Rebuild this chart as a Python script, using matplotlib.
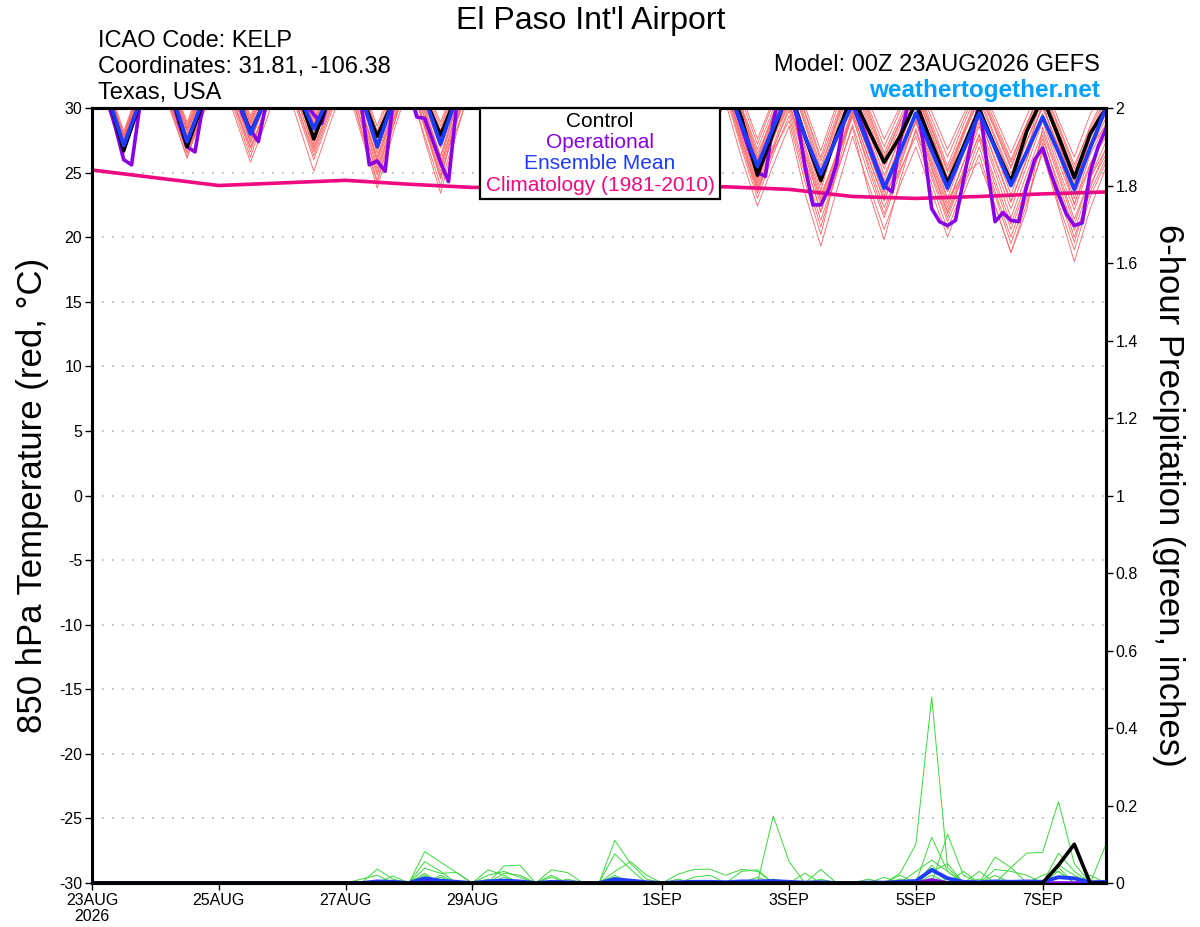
import numpy as np
import matplotlib
matplotlib.use("Agg")
import matplotlib.pyplot as plt
from matplotlib.patches import Rectangle

plt.rcParams['font.family'] = ['Liberation Sans', 'DejaVu Sans']

# forecast hours after 00Z 23AUG2026
hours6 = np.arange(0, 385, 6)
hours3 = np.arange(0, 385, 3)

date_ticks = [0, 48, 96, 144, 216, 264, 312, 360]
date_labels = ['23AUG\n2026', '25AUG', '27AUG', '29AUG', '1SEP', '3SEP', '5SEP', '7SEP']
temp_ticks = list(range(-30, 31, 5))
prec_ticks = [0, 0.2, 0.4, 0.6, 0.8, 1.0, 1.2, 1.4, 1.6, 1.8, 2.0]
prec_labels = ['0', '0.2', '0.4', '0.6', '0.8', '1', '1.2', '1.4', '1.6', '1.8', '2']

# 850 hPa temperature (C), 6-hourly: each row = one day 00/06/12/18Z, last value 00Z 8SEP
control_t = [33.5, 31.0, 26.7, 30.3,  34.0, 31.2, 27.0, 30.4,  34.0, 31.5, 28.1, 30.8,  34.5, 31.2, 27.6, 30.8,
             34.0, 31.0, 27.8, 30.5,  33.5, 30.8, 27.9, 30.9,  33.0, 31.0, 28.0, 31.0,  33.5, 31.5, 28.5, 31.5,
             34.0, 32.0, 28.5, 32.0,  34.0, 32.0, 28.8, 31.5,  32.5, 29.2, 24.8, 28.1,  31.5, 27.8, 24.4, 27.9,
             31.0, 28.3, 25.8, 27.8,  30.4, 27.3, 24.2, 27.0,  29.9, 27.0, 24.3, 28.2,  30.8, 27.8, 24.6, 28.0,
             30.0]
mean_t = [33.5, 31.0, 27.1, 30.4,  34.0, 31.2, 27.4, 30.6,  34.0, 31.4, 28.0, 30.8,  34.0, 31.2, 28.4, 30.9,
          34.0, 31.0, 27.0, 30.5,  33.5, 30.8, 27.2, 30.8,  33.0, 31.0, 27.8, 31.0,  33.2, 31.2, 28.0, 31.2,
          33.5, 31.4, 28.0, 31.5,  33.5, 31.4, 28.2, 31.5,  32.0, 28.7, 25.5, 28.5,  31.2, 27.8, 24.9, 27.7,
          30.3, 27.1, 23.8, 26.6,  29.6, 26.7, 23.8, 26.7,  29.6, 26.9, 24.0, 26.6,  29.3, 26.6, 23.7, 26.9,
          30.0]
# operational run, 3-hourly: each row = one day 00..21Z
oper_t = [33.0, 32.0, 30.5, 28.4, 26.0, 25.6, 30.0, 32.5,
          33.5, 32.5, 31.0, 28.8, 27.0, 26.6, 30.2, 32.0,
          34.0, 33.0, 31.5, 29.5, 28.3, 27.4, 30.4, 32.5,
          34.0, 33.0, 31.5, 30.3, 29.5, 28.8, 31.0, 33.0,
          34.0, 32.5, 30.3, 25.6, 25.9, 25.1, 30.5, 32.0,
          31.5, 29.3, 29.2, 27.5, 25.8, 24.3, 30.0, 32.0,
          33.0, 32.0, 31.0, 29.5, 28.5, 28.2, 30.5, 32.0,
          33.5, 32.5, 31.2, 29.8, 28.8, 28.5, 30.8, 32.5,
          34.0, 33.0, 31.5, 30.0, 29.0, 28.6, 31.0, 32.5,
          34.0, 33.0, 31.5, 29.8, 28.7, 28.2, 30.6, 32.0,
          32.0, 30.5, 28.5, 26.7, 25.0, 24.7, 29.0, 31.5,
          31.5, 29.2, 25.5, 22.5, 22.5, 23.7, 25.7, 29.5,
          31.0, 29.0, 27.3, 25.6, 24.0, 23.5, 27.5, 30.3,
          31.0, 27.0, 22.2, 21.2, 20.9, 21.3, 24.4, 27.4,
          30.5, 25.5, 21.2, 21.9, 21.3, 21.2, 24.0, 26.0,
          26.9, 25.0, 23.3, 21.8, 20.9, 21.1, 25.0, 27.0,
          28.4]

members_t = [
    [33.8, 30.9, 27.2, 30.6, 34.2, 31.0, 27.8, 30.8, 34.5, 31.2, 28.4, 31.0, 34.8, 31.5, 28.0, 31.2,
     34.5, 30.6, 26.8, 30.4, 33.9, 30.2, 26.9, 30.9, 33.5, 30.8, 27.5, 31.0, 33.8, 31.2, 28.2, 31.4,
     34.1, 31.5, 28.6, 31.7, 34.0, 31.3, 28.0, 31.0, 32.6, 28.9, 25.2, 28.3, 31.4, 27.8, 24.2, 27.6,
     31.0, 27.5, 24.0, 27.2, 30.4, 26.9, 23.5, 26.6, 29.8, 26.8, 23.9, 26.9, 30.2, 26.9, 23.6, 27.0, 29.9],
    [33.2, 30.4, 26.5, 30.1, 33.6, 30.2, 27.0, 30.5, 34.0, 30.8, 27.6, 30.6, 34.3, 30.9, 27.2, 30.8,
     33.8, 29.9, 25.9, 29.8, 33.1, 29.6, 25.8, 30.2, 33.0, 30.1, 26.8, 30.6, 33.4, 30.7, 27.4, 31.0,
     33.9, 31.0, 27.9, 31.2, 33.6, 30.9, 27.3, 30.4, 31.8, 27.6, 24.0, 27.1, 30.5, 26.3, 22.5, 26.0,
     29.6, 26.2, 22.8, 26.1, 29.0, 25.4, 22.0, 25.2, 28.6, 25.0, 21.5, 24.9, 28.2, 24.7, 21.0, 24.6, 27.4],
    [34.5, 31.6, 27.8, 31.2, 34.8, 31.9, 28.5, 31.6, 35.1, 32.1, 29.0, 31.9, 35.4, 32.4, 29.5, 32.2,
     35.0, 31.7, 27.9, 31.3, 34.6, 31.2, 28.3, 31.8, 34.2, 31.5, 28.5, 31.9, 34.5, 31.9, 29.0, 32.2,
     34.9, 32.3, 29.3, 32.4, 34.7, 32.0, 28.8, 31.7, 33.9, 30.1, 26.8, 29.9, 32.8, 29.6, 25.9, 29.4,
     32.7, 29.8, 26.5, 29.3, 31.8, 28.8, 25.5, 28.7, 31.5, 28.6, 25.8, 28.8, 31.7, 28.5, 25.3, 28.6, 31.2],
    [33.0, 30.2, 26.9, 29.8, 33.1, 29.6, 26.2, 29.5, 33.6, 30.3, 27.0, 30.0, 33.4, 29.9, 26.3, 29.6,
     33.0, 28.8, 24.8, 28.9, 32.4, 28.6, 24.6, 29.1, 32.6, 29.2, 25.5, 29.6, 33.1, 30.0, 26.8, 30.4,
     33.3, 30.2, 27.1, 30.1, 32.9, 29.6, 26.0, 29.5, 31.0, 26.8, 23.0, 26.4, 29.4, 24.8, 20.8, 24.9,
     28.7, 24.9, 21.5, 25.0, 28.2, 24.6, 21.2, 24.1, 27.6, 23.5, 20.0, 23.6, 27.3, 23.3, 19.6, 23.8, 26.9],
    [34.1, 31.2, 27.5, 30.9, 34.0, 30.8, 27.4, 30.7, 34.6, 31.5, 28.1, 31.2, 35.0, 31.9, 28.8, 31.6,
     34.7, 31.1, 27.4, 30.9, 34.3, 30.8, 27.8, 31.4, 34.0, 31.2, 28.0, 31.5, 34.3, 31.6, 28.6, 31.8,
     34.2, 31.2, 28.0, 31.1, 34.1, 31.0, 27.6, 30.8, 33.2, 29.5, 25.8, 29.2, 32.4, 28.7, 24.8, 28.8,
     32.2, 29.0, 25.6, 28.6, 31.1, 27.9, 24.4, 27.8, 30.9, 27.8, 24.9, 28.0, 31.2, 27.9, 24.6, 28.1, 30.6],
    [33.5, 30.6, 26.7, 30.3, 33.9, 30.7, 27.3, 30.6, 33.7, 30.1, 26.6, 30.2, 34.1, 31.0, 27.7, 30.9,
     33.6, 30.0, 26.2, 30.0, 33.0, 29.3, 25.4, 29.6, 32.8, 29.6, 26.1, 30.2, 33.3, 30.3, 27.0, 30.5,
     33.2, 29.9, 26.5, 29.8, 32.7, 29.1, 25.3, 28.7, 32.0, 28.2, 24.4, 27.8, 30.6, 25.9, 21.9, 26.0,
     29.9, 26.7, 23.5, 26.6, 29.4, 25.9, 22.6, 25.7, 28.9, 25.4, 22.2, 25.5, 29.0, 25.3, 22.1, 25.6, 28.3],
    [34.8, 31.9, 28.2, 31.6, 35.1, 32.2, 28.9, 32.0, 35.5, 32.6, 29.4, 32.4, 35.8, 33.0, 30.2, 32.8,
     35.3, 32.0, 28.6, 31.9, 34.9, 31.7, 28.9, 32.2, 34.6, 32.0, 29.1, 32.3, 34.9, 32.4, 29.6, 32.6,
     35.2, 32.7, 29.8, 32.6, 35.0, 32.2, 29.2, 32.1, 34.5, 31.0, 27.6, 30.6, 33.4, 30.1, 26.7, 30.3,
     33.5, 30.6, 27.6, 30.1, 32.4, 29.7, 26.8, 29.5, 32.0, 29.3, 26.5, 29.4, 32.3, 29.1, 26.2, 29.5, 31.9],
    [33.4, 30.5, 27.0, 30.0, 33.2, 29.9, 26.6, 29.4, 33.0, 29.4, 25.8, 29.0, 32.8, 28.9, 25.1, 28.7,
     32.1, 27.9, 23.8, 28.0, 31.8, 27.8, 24.0, 28.3, 31.9, 28.2, 24.5, 28.6, 32.4, 28.9, 25.6, 29.2,
     32.6, 29.3, 26.0, 29.4, 32.2, 28.6, 25.0, 28.2, 30.4, 26.1, 22.4, 25.6, 28.6, 23.4, 19.3, 23.6,
     27.8, 24.1, 20.6, 24.0, 27.0, 23.5, 20.0, 23.3, 26.4, 22.4, 18.8, 22.6, 26.8, 22.6, 19.0, 23.1, 25.8],
    [34.2, 31.3, 27.6, 31.0, 34.4, 31.3, 28.0, 31.2, 34.9, 31.9, 28.8, 31.6, 35.1, 31.9, 29.0, 31.7,
     34.6, 30.9, 27.0, 30.6, 33.8, 30.0, 26.3, 30.4, 33.6, 30.4, 27.0, 30.8, 34.0, 31.1, 28.0, 31.3,
     34.4, 31.5, 28.4, 31.4, 34.2, 31.1, 27.7, 30.9, 33.0, 29.2, 25.5, 28.7, 31.7, 27.6, 23.6, 27.9,
     31.6, 28.2, 24.8, 27.6, 30.5, 26.8, 23.0, 26.5, 30.1, 26.6, 23.3, 26.7, 30.4, 26.5, 22.5, 26.4, 28.8],
    [33.1, 30.0, 26.4, 30.2, 33.8, 30.9, 27.5, 30.8, 34.2, 31.1, 27.9, 30.8, 33.9, 30.5, 26.8, 30.1,
     33.4, 29.4, 25.3, 29.0, 32.0, 27.5, 23.4, 28.0, 32.2, 28.0, 24.2, 28.9, 32.9, 29.3, 25.8, 29.9,
     33.6, 30.4, 26.9, 30.5, 33.4, 30.0, 26.4, 30.0, 31.6, 27.3, 23.6, 26.9, 29.8, 25.2, 21.3, 25.0,
     28.5, 23.6, 19.8, 24.4, 28.4, 24.9, 21.5, 24.8, 28.0, 24.4, 21.0, 24.3, 27.6, 24.2, 20.5, 24.1, 26.4],
    [33.9, 31.0, 27.3, 30.9, 34.5, 31.5, 28.3, 31.3, 34.6, 31.3, 28.0, 31.1, 34.9, 31.7, 28.5, 31.4,
     34.2, 30.5, 26.5, 30.5, 34.0, 30.6, 27.6, 31.2, 34.1, 31.1, 28.1, 31.5, 34.6, 31.8, 28.9, 32.0,
     34.8, 32.0, 29.1, 32.1, 34.5, 31.7, 28.5, 31.4, 33.6, 29.9, 26.2, 29.6, 32.6, 28.9, 25.2, 29.0,
     32.5, 29.3, 26.0, 28.9, 31.5, 28.3, 25.0, 28.0, 30.6, 27.6, 24.6, 27.5, 30.0, 27.1, 24.0, 27.6, 30.3],
    [33.6, 30.7, 26.8, 30.4, 33.7, 30.3, 26.9, 30.3, 34.0, 30.6, 27.3, 30.7, 34.4, 31.2, 27.9, 30.9,
     33.7, 29.5, 25.6, 29.4, 33.3, 29.8, 26.2, 30.1, 33.2, 29.9, 26.5, 30.4, 33.6, 30.5, 27.2, 30.8,
     33.9, 30.8, 27.6, 30.9, 33.5, 30.3, 26.8, 29.9, 32.3, 28.4, 24.8, 27.9, 31.0, 26.8, 23.0, 26.5,
     30.6, 27.3, 23.9, 27.2, 30.8, 27.1, 23.9, 27.0, 29.4, 25.9, 22.7, 26.0, 29.6, 26.3, 23.0, 26.8, 29.2],
    [34.3, 31.5, 27.9, 31.3, 34.1, 31.0, 27.6, 31.0, 34.8, 31.7, 28.6, 31.4, 35.2, 32.1, 29.2, 31.9,
     34.9, 31.4, 27.7, 31.2, 34.1, 30.6, 27.4, 31.0, 33.9, 30.9, 27.9, 31.3, 34.2, 31.4, 28.4, 31.6,
     34.6, 31.8, 28.8, 31.8, 34.3, 31.4, 28.1, 31.2, 33.7, 30.0, 26.5, 29.2, 31.9, 28.2, 24.5, 28.4,
     32.0, 28.7, 25.3, 28.2, 31.3, 28.0, 24.6, 28.1, 31.1, 28.3, 25.3, 28.6, 31.6, 28.7, 25.6, 28.4, 30.8],
    [33.3, 30.3, 26.6, 30.0, 33.0, 29.8, 26.1, 29.9, 33.4, 30.2, 26.9, 29.7, 33.2, 29.6, 26.0, 29.3,
     32.6, 28.4, 24.4, 28.6, 32.5, 28.8, 25.1, 29.3, 32.7, 29.4, 25.8, 29.8, 33.2, 30.0, 26.4, 30.1,
     33.5, 30.3, 27.0, 30.3, 33.1, 29.7, 26.2, 29.4, 31.2, 27.1, 23.4, 26.8, 30.1, 25.9, 22.0, 25.9,
     29.3, 25.7, 22.3, 25.2, 27.8, 24.1, 20.6, 23.8, 27.0, 23.2, 19.5, 23.0, 26.5, 22.3, 18.1, 22.2, 25.4],
    [34.0, 31.1, 27.4, 31.4, 34.9, 32.0, 28.7, 31.8, 35.3, 32.3, 29.2, 32.1, 35.6, 32.7, 29.7, 32.5,
     35.1, 31.9, 28.2, 31.7, 34.8, 31.5, 28.6, 32.0, 34.4, 31.7, 28.8, 32.1, 34.7, 32.1, 29.3, 32.4,
     35.0, 32.4, 29.5, 32.5, 34.8, 32.1, 28.9, 31.8, 34.2, 30.6, 27.2, 30.4, 33.1, 29.7, 26.2, 29.9,
     33.2, 30.1, 27.0, 29.8, 32.1, 29.2, 26.2, 29.1, 31.8, 28.9, 26.0, 28.8, 31.4, 28.2, 25.0, 28.0, 29.5],
    [33.7, 30.8, 27.1, 30.5, 33.9, 30.6, 27.2, 30.4, 34.1, 30.8, 27.4, 30.5, 33.8, 30.7, 27.5, 30.6,
     32.9, 29.0, 25.0, 29.1, 32.8, 29.2, 25.5, 29.7, 32.9, 29.4, 26.0, 30.0, 33.4, 30.2, 26.9, 30.6,
     33.7, 30.6, 27.3, 30.4, 33.0, 29.4, 25.8, 29.0, 31.7, 27.9, 24.2, 27.6, 30.9, 27.1, 23.3, 26.3,
     29.4, 25.4, 21.8, 25.5, 29.1, 25.7, 22.3, 25.8, 29.2, 26.1, 22.8, 26.1, 29.3, 25.8, 22.6, 25.7, 27.8],
    [34.4, 31.5, 28.0, 31.5, 34.6, 31.4, 28.2, 31.1, 34.9, 31.8, 28.9, 31.5, 34.7, 31.5, 28.3, 31.3,
     34.3, 30.7, 26.9, 30.6, 34.2, 30.7, 27.0, 31.1, 34.0, 30.8, 27.6, 31.2, 34.4, 31.5, 28.3, 31.4,
     34.3, 31.3, 28.1, 31.0, 33.9, 30.7, 27.4, 30.6, 33.1, 29.4, 25.9, 28.9, 31.5, 27.8, 24.0, 27.7,
     31.2, 27.8, 24.4, 27.9, 31.0, 27.4, 24.0, 27.3, 30.3, 27.1, 24.1, 27.4, 30.7, 27.4, 24.3, 27.3, 29.7],
    [33.4, 30.6, 26.9, 30.4, 33.8, 30.9, 27.7, 30.9, 34.3, 31.0, 27.8, 30.6, 33.9, 30.4, 27.0, 30.1,
     33.3, 29.8, 26.0, 29.5, 32.6, 28.6, 24.8, 28.8, 32.4, 28.8, 25.2, 29.2, 33.0, 29.7, 26.2, 29.9,
     33.4, 30.0, 26.7, 30.0, 32.8, 29.2, 25.6, 28.8, 31.5, 27.6, 23.8, 26.7, 29.0, 24.3, 20.2, 25.1,
     29.7, 26.1, 22.9, 25.8, 28.9, 25.3, 21.8, 24.9, 27.9, 24.0, 20.6, 23.9, 27.9, 23.8, 20.0, 23.5, 26.1],
    [34.0, 31.2, 27.7, 31.1, 34.7, 31.7, 28.4, 31.4, 34.6, 31.4, 28.2, 31.2, 34.9, 31.8, 28.7, 31.5,
     34.5, 31.0, 27.2, 31.0, 34.5, 31.2, 28.0, 31.6, 34.3, 31.4, 28.4, 31.7, 34.6, 31.9, 29.1, 32.0,
     34.9, 32.2, 29.4, 32.2, 34.6, 31.8, 28.7, 31.5, 33.5, 29.8, 26.0, 29.5, 32.9, 29.2, 25.5, 29.1,
     32.8, 29.6, 26.2, 29.0, 31.6, 28.5, 25.2, 28.2, 31.2, 28.4, 25.5, 28.5, 31.0, 27.4, 23.8, 27.0, 28.6],
    [33.6, 30.5, 26.7, 30.3, 33.5, 30.1, 26.5, 30.0, 33.3, 29.8, 26.2, 29.9, 33.5, 30.0, 26.6, 29.8,
     32.8, 28.2, 24.2, 28.5, 32.3, 28.4, 24.5, 29.0, 32.5, 28.7, 25.0, 29.4, 33.0, 29.5, 26.0, 29.9,
     33.4, 30.1, 26.6, 29.9, 32.5, 28.6, 24.7, 28.3, 31.9, 28.3, 24.6, 27.8, 30.3, 26.5, 22.8, 26.2,
     30.0, 26.6, 23.2, 26.4, 29.6, 26.2, 22.9, 24.8, 25.8, 22.4, 18.8, 22.1, 28.5, 25.0, 21.4, 24.6, 26.8],
]

# 1981-2010 climatology, daily at 00Z
clim_hours = np.arange(0, 385, 24)
clim_t = [25.2, 24.6, 24.0, 24.2, 24.4, 24.1, 23.85, 23.9, 23.9, 23.9, 23.9, 23.7, 23.15, 23.0, 23.15, 23.35, 23.5]

# 6-hour precipitation (inches), same 6-hourly times
control_p = [0, 0, 0, 0, 0, 0, 0, 0, 0, 0, 0, 0, 0, 0, 0, 0,
             0, 0, 0, 0, 0, 0, 0, 0, 0, 0, 0, 0, 0, 0, 0, 0,
             0, 0, 0, 0, 0, 0, 0, 0, 0, 0, 0, 0, 0, 0, 0, 0,
             0, 0, 0, 0, 0, 0, 0, 0, 0, 0, 0, 0, 0, .046, .10, 0, 0]
mean_p = [0, 0, 0, 0, 0, 0, 0, 0, 0, 0, 0, 0, 0, 0, 0, 0,
          0, 0, .004, .003, 0, .012, .006, .003, 0, .004, .006, .004, 0, .003, .002, 0,
          0, .01, .006, .002, 0, .002, .003, .003, .002, .004, .004, .005, .003, .001, .002, 0,
          0, .001, .001, .003, .005, .034, .012, .003, .002, .004, .003, .004, .003, .015, .012, .002, .003]
oper_p = [0, 0, 0, 0, 0, 0, 0, 0, 0, 0, 0, 0, 0, 0, 0, 0,
          0, 0, 0, 0, 0, .004, 0, 0, 0, 0, .003, 0, 0, 0, 0, 0,
          0, .003, 0, 0, 0, 0, 0, 0, 0, 0, 0, 0, 0, 0, 0, 0,
          0, 0, 0, 0, 0, .008, 0, 0, 0, 0, 0, 0, 0, 0, 0, 0, 0]
members_p = [
    [0, 0, 0, 0, 0, 0, 0, 0, 0, 0, 0, 0, 0, 0, 0, 0,
     0, 0, .036, .01, 0, .081, .054, .027, 0, 0, 0, 0, 0, 0, 0, 0,
     0, .11, .05, .01, 0, 0, 0, 0, 0, 0, 0, 0, 0, 0, 0, 0,
     0, 0, 0, .025, .10, .48, .04, 0, 0, 0, 0, 0, 0, 0, 0, 0, 0],
    [0, 0, 0, 0, 0, 0, 0, 0, 0, 0, 0, 0, 0, 0, 0, 0,
     0, .01, .02, 0, 0, .055, .03, 0, 0, 0, .044, .046, 0, 0, 0, 0,
     0, 0, 0, 0, 0, 0, 0, 0, 0, 0, 0, .173, .055, 0, .035, 0,
     0, 0, 0, 0, 0, 0, 0, 0, 0, 0, .04, .077, .079, .21, .05, 0, 0],
    [0, 0, 0, 0, 0, 0, 0, 0, 0, 0, 0, 0, 0, 0, 0, 0,
     0, 0, 0, .018, 0, .038, .025, .027, 0, .034, .02, 0, 0, 0, 0, 0,
     0, .075, .035, 0, 0, 0, 0, 0, 0, 0, 0, 0, 0, 0, 0, 0,
     0, 0, 0, 0, 0, .118, .03, 0, 0, .067, .04, 0, 0, .077, .03, 0, 0],
    [0, 0, 0, 0, 0, 0, 0, 0, 0, 0, 0, 0, 0, 0, 0, 0,
     0, 0, 0, 0, 0, .025, 0, 0, 0, .02, .03, .015, 0, .034, .027, 0,
     0, 0, 0, 0, 0, .023, .035, .036, .02, .035, .03, 0, 0, 0, 0, 0,
     0, 0, 0, 0, 0, 0, .126, .02, 0, 0, 0, 0, 0, .046, .02, 0, 0],
    [0, 0, 0, 0, 0, 0, 0, 0, 0, 0, 0, 0, 0, 0, 0, 0,
     0, 0, 0, 0, 0, 0, .02, 0, 0, 0, .025, .02, 0, .02, 0, 0,
     0, .03, .055, .02, 0, 0, 0, 0, 0, .03, .034, 0, 0, .025, 0, 0,
     0, 0, .015, 0, .03, .059, .03, 0, .03, 0, 0, 0, 0, 0, 0, 0, .10],
    [0, 0, 0, 0, 0, 0, 0, 0, 0, 0, 0, 0, 0, 0, 0, 0,
     0, 0, 0, 0, 0, .02, 0, 0, 0, 0, .015, 0, 0, 0, 0, 0,
     0, .02, 0, 0, 0, 0, .015, .02, 0, 0, 0, .01, 0, 0, 0, 0,
     0, .01, 0, .02, 0, .046, 0, .03, 0, .035, .03, .02, 0, .04, 0, .02, 0],
    [0, 0, 0, 0, 0, 0, 0, 0, 0, 0, 0, 0, 0, 0, 0, 0,
     0, 0, 0, 0, 0, 0, .015, 0, 0, .01, 0, 0, 0, 0, .01, 0,
     0, 0, 0, 0, 0, .01, 0, 0, 0, 0, .015, 0, 0, 0, 0, 0,
     0, 0, 0, 0, 0, .03, .05, 0, .01, 0, 0, 0, .02, .03, 0, 0, 0],
    [0, 0, 0, 0, 0, 0, 0, 0, 0, 0, 0, 0, 0, 0, 0, 0,
     0, 0, 0, 0, 0, 0, 0, 0, 0, 0, 0, 0, 0, .015, 0, 0,
     0, .015, 0, 0, 0, 0, 0, 0, 0, 0, 0, 0, 0, 0, .01, 0,
     0, 0, 0, .01, 0, .02, 0, 0, 0, .02, 0, 0, 0, .03, 0, 0, 0],
]

RED = '#ff6464'
GREEN = '#3ad83a'
PURPLE = '#8a00e6'
BLUE = '#1e3cff'
MAGENTA = '#f00a82'

W, H = 1200, 927
fig = plt.figure(figsize=(W / 100, H / 100), dpi=100)
ax = fig.add_axes([92 / W, 1 - 883 / H, (1106 - 92) / W, (883 - 108) / H])
ax2 = ax.twinx()

for m in members_t:
    ax.plot(hours6, m, color=RED, lw=0.6, zorder=2)
ax.plot(clim_hours, clim_t, color=MAGENTA, lw=2.6, zorder=3)
ax.plot(hours3, oper_t, color=PURPLE, lw=2.6, zorder=4)
ax.plot(hours6, control_t, color='black', lw=2.6, zorder=5)
ax.plot(hours6, mean_t, color=BLUE, lw=2.8, zorder=6)

for m in members_p:
    ax2.plot(hours6, m, color=GREEN, lw=0.7, zorder=2)
ax2.plot(hours6, oper_p, color=PURPLE, lw=2.6, zorder=3)
ax2.plot(hours6, mean_p, color=BLUE, lw=2.8, zorder=4)
ax2.plot(hours6, control_p, color='black', lw=2.6, zorder=5)

ax.set_xlim(0, 384)
ax.set_ylim(-30, 30)
ax2.set_ylim(0, 2)

for y in temp_ticks[1:-1]:
    ax.axhline(y, color='#b4b4b4', lw=1.2, ls=(0, (1, 5)), zorder=1)

ax.set_yticks(temp_ticks)
ax.set_yticklabels([str(t) for t in temp_ticks])
ax2.set_yticks(prec_ticks)
ax2.set_yticklabels(prec_labels)
ax.set_xticks(date_ticks)
ax.set_xticklabels(date_labels, linespacing=1.1)

ax.tick_params(axis='both', labelsize=11.5, length=5, width=1, pad=2, direction='out')
ax2.tick_params(axis='y', labelsize=11.5, length=5, width=1, pad=2, direction='out')

for a in (ax, ax2):
    for s in a.spines.values():
        s.set_linewidth(2.2)
        s.set_color('black')

# header
fig.text(0.4925, 1 - 29 / H, "El Paso Int'l Airport", ha='center', va='baseline', fontsize=23)
fig.text(98 / W, 1 - 47 / H, 'ICAO Code: KELP', ha='left', va='baseline', fontsize=17)
fig.text(98 / W, 1 - 73 / H, 'Coordinates: 31.81, -106.38', ha='left', va='baseline', fontsize=17)
fig.text(98 / W, 1 - 99 / H, 'Texas, USA', ha='left', va='baseline', fontsize=17)
fig.text(1100 / W, 1 - 71 / H, 'Model: 00Z 23AUG2026 GEFS', ha='right', va='baseline', fontsize=17)
fig.text(1100 / W, 1 - 97 / H, 'weathertogether.net', ha='right', va='baseline', fontsize=17.5,
         fontweight='bold', color='#00a0ff')

fig.text(33 / W, 1 - 495 / H, '850 hPa Temperature (red, \u00b0C)', rotation=90,
         ha='center', va='center', fontsize=25)
fig.text(1168 / W, 1 - 495 / H, '6-hour Precipitation (green, inches)', rotation=270,
         ha='center', va='center', fontsize=25)

# legend box
fig.patches.append(Rectangle((480 / W, 1 - 199 / H), 240 / W, 91 / H, transform=fig.transFigure,
                             facecolor='white', edgecolor='black', lw=1.6, zorder=5))
legend_items = [('Control', 'black', 127), ('Operational', PURPLE, 148),
                ('Ensemble Mean', BLUE, 169), ('Climatology (1981-2010)', MAGENTA, 191)]
for label, col, yb in legend_items:
    fig.text(600 / W, 1 - yb / H, label, color=col, ha='center', va='baseline', fontsize=15, zorder=6)

fig.savefig('out.png', dpi=100)
